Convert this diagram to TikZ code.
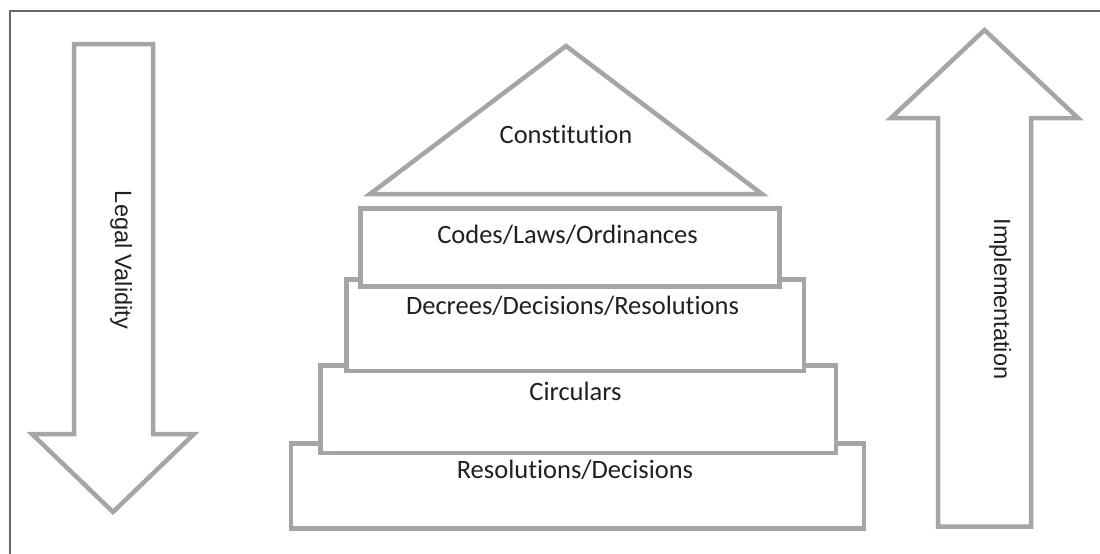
\documentclass[tikz,border=0pt]{standalone}
\usepackage{fontspec}
\setmainfont[Ligatures={NoCommon,NoContextual,NoRare}]{Carlito}
\newfontfamily\arialfont{Liberation Sans}
\definecolor{shapegray}{RGB}{165,165,168}
\definecolor{framegray}{RGB}{102,102,102}
\definecolor{txt}{RGB}{35,31,32}
\tikzset{
  outline/.style={draw=shapegray,line width=4.5pt,fill=white,line join=miter},
  tier/.style={outline,rectangle,inner sep=0pt,anchor=north west},
  tierlabel/.style={anchor=base,font=\fontsize{26.5}{30}\selectfont,text=txt,inner sep=0pt},
  sidelabel/.style={anchor=base,rotate=-90,font=\arialfont\fontsize{23.5}{28}\selectfont,text=txt,inner sep=0pt}
}
\begin{document}
\begin{tikzpicture}[x=1pt,y=-1pt]
\useasboundingbox (0,0) rectangle (1100,554);
% frame (top and left only)
\draw[framegray,line width=2pt] (10.2,554) -- (10.2,11) -- (1100,11);
% left arrow (down)
\draw[outline] (74,44) -- (153,44) -- (153,434) -- (194,434) -- (113,512) -- (32,434) -- (74,434) -- cycle;
\node[sidelabel] (legal) at (115,260) {Legal Validity};
% right arrow (up)
\draw[outline] (938,526.5) -- (938,118) -- (891,118) -- (984.5,30) -- (1078,118) -- (1031,118) -- (1031,526.5) -- cycle;
\node[sidelabel] (impl) at (994,299) {Implementation};
% tiers (drawn bottom up, upper ones over lower ones)
\node[tier,minimum width=573pt,minimum height=84.7pt] (res) at (288.5,441.3) {};
\node[tier,minimum width=515.5pt,minimum height=87.5pt] (circ) at (318,363) {};
\node[tier,minimum width=457.5pt,minimum height=91.5pt] (dec) at (344,277) {};
\node[tier,minimum width=419pt,minimum height=78pt] (codes) at (358,206) {};
% roof
\draw[outline] (370,194) -- (566,46) -- (762,194) -- cycle;
\coordinate (roofbase) at (566,143);
% labels
\node[tierlabel] (constitution) at (roofbase) {Constitution};
\node[tierlabel] (codesl) at (567.5,243) {Codes/Laws/Ordinances};
\node[tierlabel] (decl) at (572.5,314) {Decrees/Decisions/Resolutions};
\node[tierlabel] (circl) at (575.5,400) {Circulars};
\node[tierlabel] (resl) at (575,478) {Resolutions/Decisions};
\end{tikzpicture}
\end{document}
